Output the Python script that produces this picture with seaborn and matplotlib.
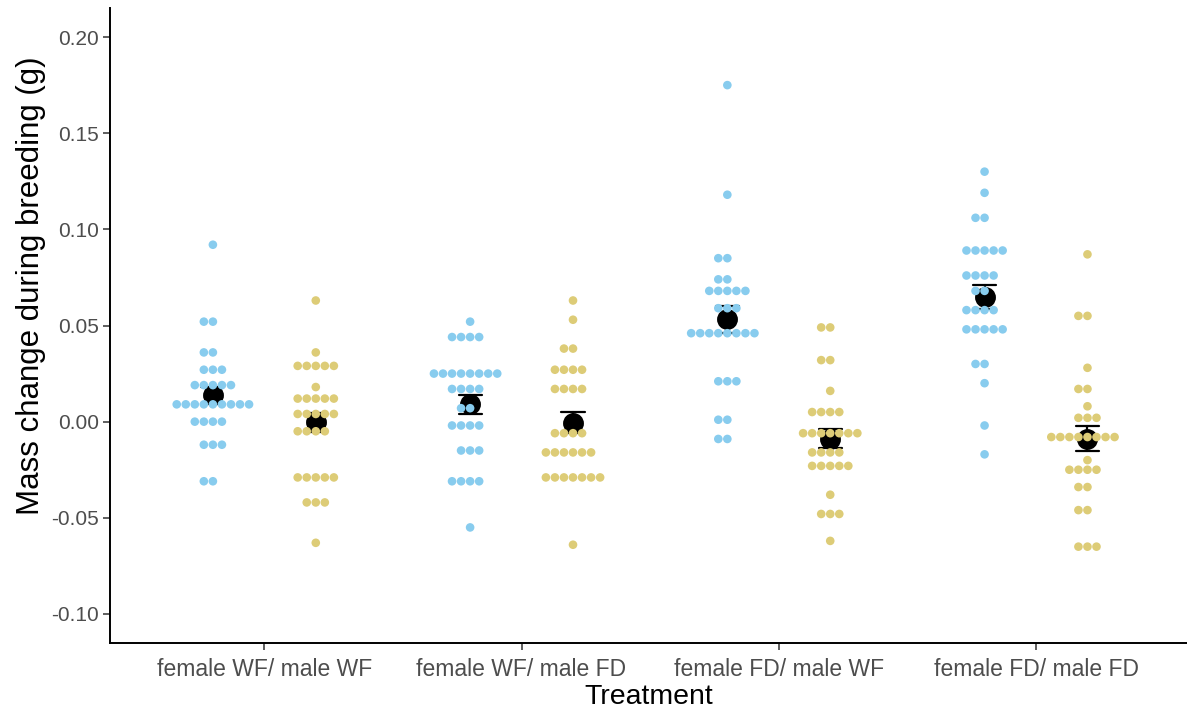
import numpy as np
import pandas as pd
import matplotlib
matplotlib.use("Agg")
import matplotlib.pyplot as plt
import seaborn as sns

# --- Data ---
treatments = ["female WF/ male WF", "female WF/ male FD", "female FD/ male WF", "female FD/ male FD"]
sexes = ["female", "male"]
sex_colors = {"female": "#88CCEE", "male": "#DDCC77"}

wfwf_female = [0.092, 0.052, 0.052, 0.036, 0.036, 0.027, 0.027, 0.027,
               0.019, 0.019, 0.019, 0.019, 0.019,
               0.009, 0.009, 0.009, 0.009, 0.009, 0.009, 0.009, 0.009, 0.009,
               0.000, 0.000, 0.000, 0.000, -0.012, -0.012, -0.012, -0.031, -0.031]
wfwf_male = [0.063, 0.036, 0.029, 0.029, 0.029, 0.029, 0.029, 0.018,
             0.012, 0.012, 0.012, 0.012, 0.012, 0.004, 0.004, 0.004, 0.004, 0.004,
             -0.005, -0.005, -0.005, -0.005, -0.029, -0.029, -0.029, -0.029, -0.029,
             -0.042, -0.042, -0.042, -0.063]
wffd_female = [0.052, 0.044, 0.044, 0.044, 0.044,
               0.025, 0.025, 0.025, 0.025, 0.025, 0.025, 0.025, 0.025,
               0.017, 0.017, 0.017, 0.017, 0.007, 0.007,
               -0.002, -0.002, -0.002, -0.002, -0.015, -0.015, -0.015,
               -0.031, -0.031, -0.031, -0.031, -0.055]
wffd_male = [0.063, 0.053, 0.038, 0.038, 0.027, 0.027, 0.027, 0.027,
             0.017, 0.017, 0.017, 0.017, -0.006, -0.006, -0.006, -0.006,
             -0.016, -0.016, -0.016, -0.016, -0.016, -0.016,
             -0.029, -0.029, -0.029, -0.029, -0.029, -0.029, -0.029, -0.064]
fdwf_female = [0.175, 0.118, 0.085, 0.085, 0.074, 0.074,
               0.068, 0.068, 0.068, 0.068, 0.068, 0.059, 0.059, 0.059,
               0.046, 0.046, 0.046, 0.046, 0.046, 0.046, 0.046, 0.046,
               0.021, 0.021, 0.021, 0.001, 0.001, -0.009, -0.009]
fdwf_male = [0.049, 0.049, 0.032, 0.032, 0.016, 0.005, 0.005, 0.005, 0.005,
             -0.006, -0.006, -0.006, -0.006, -0.006, -0.006, -0.006,
             -0.016, -0.016, -0.016, -0.016, -0.023, -0.023, -0.023, -0.023, -0.023,
             -0.038, -0.048, -0.048, -0.048, -0.062]
fdfd_female = [0.130, 0.119, 0.106, 0.106, 0.089, 0.089, 0.089, 0.089, 0.089,
               0.076, 0.076, 0.076, 0.076, 0.068, 0.068,
               0.058, 0.058, 0.058, 0.058, 0.048, 0.048, 0.048, 0.048, 0.048,
               0.030, 0.030, 0.020, -0.002, -0.017]
fdfd_male = [0.087, 0.055, 0.055, 0.028, 0.017, 0.017, 0.008, 0.002, 0.002, 0.002,
             -0.008, -0.008, -0.008, -0.008, -0.008, -0.008, -0.008, -0.008,
             -0.020, -0.025, -0.025, -0.025, -0.025, -0.034, -0.034,
             -0.046, -0.046, -0.065, -0.065, -0.065]

groups = {
    (treatments[0], "female"): wfwf_female, (treatments[0], "male"): wfwf_male,
    (treatments[1], "female"): wffd_female, (treatments[1], "male"): wffd_male,
    (treatments[2], "female"): fdwf_female, (treatments[2], "male"): fdwf_male,
    (treatments[3], "female"): fdfd_female, (treatments[3], "male"): fdfd_male,
}
rows = []
for (trt, sex), vals in groups.items():
    for v in vals:
        rows.append({"Treatment": trt, "Sex": sex, "mass": v})
df = pd.DataFrame(rows)

# --- Plot ---
sns.set_theme(style="ticks")
plt.rcParams["font.family"] = ["Liberation Sans", "DejaVu Sans"]

fig = plt.figure(figsize=(11.87, 7.11), dpi=100)
ax = fig.add_axes([110 / 1187, (711 - 643) / 711, (1187 - 110) / 1187, (643 - 8) / 711])

sns.swarmplot(data=df, x="Treatment", y="mass", hue="Sex", order=treatments, hue_order=sexes,
              palette=sex_colors, dodge=True, size=6.2, linewidth=0, ax=ax, legend=False)
sns.pointplot(data=df, x="Treatment", y="mass", hue="Sex", order=treatments, hue_order=sexes,
              palette={"female": "black", "male": "black"}, dodge=0.4, errorbar="se",
              capsize=0.09, linestyle="none", markersize=13, err_kws={"linewidth": 1.6},
              ax=ax, legend=False)

ax.set_xlim(-0.6, 3.587)
ax.set_ylim(-0.1151, 0.2151)
yticks = [-0.10, -0.05, 0.00, 0.05, 0.10, 0.15, 0.20]
ax.set_yticks(yticks)
ax.set_yticklabels([f"{t:.2f}" for t in yticks])

ax.tick_params(axis="both", labelcolor="#4D4D4D", color="#333333",
               length=5, width=1.1, pad=3)
ax.tick_params(axis="x", labelsize=16.5, pad=6)
ax.tick_params(axis="y", labelsize=15)
for side in ["top", "right"]:
    ax.spines[side].set_visible(False)
for side in ["left", "bottom"]:
    ax.spines[side].set_color("black")
    ax.spines[side].set_linewidth(1.4)
ax.grid(False)

ax.set_xlabel("Treatment", fontsize=20.5, color="black", labelpad=2)
ax.set_ylabel("Mass change during breeding (g)", fontsize=22.5, color="black")
ax.yaxis.set_label_coords(-0.059, 0.562)

plt.savefig("out.png", dpi=100, facecolor="white")
plt.close()
print("out.png OK")
